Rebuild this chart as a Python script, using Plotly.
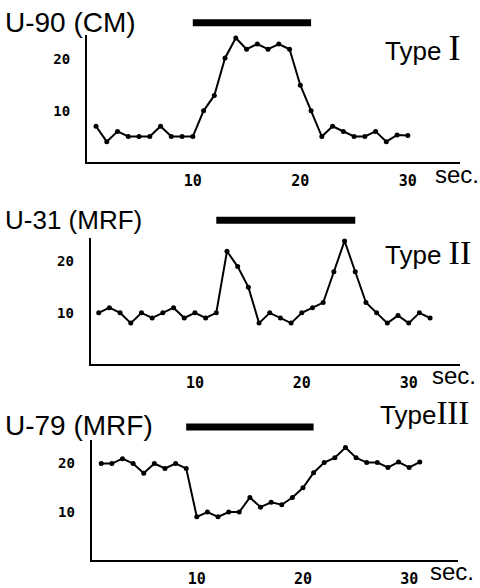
import plotly.graph_objects as go

W, H = 480, 588

# ---- data ----
t1 = [1, 2, 3, 4, 5, 6, 7, 8, 9, 10, 11, 12, 13, 14, 15, 16, 17, 18, 19, 20,
      21, 22, 23, 24, 25, 26, 27, 28, 29, 30]
u90 = [7, 4, 6, 5, 5, 5, 7, 5, 5, 5, 10, 13, 20.3, 24.2, 22, 23, 22, 23, 22, 15,
       10, 5, 7, 6, 5, 5, 6, 4, 5.3, 5.2]
stim1 = [10, 21]

t2 = [1, 2, 3, 4, 5, 6, 7, 8, 9, 10, 11, 12, 13, 14, 15, 16, 17, 18, 19, 20,
      21, 22, 23, 24, 25, 26, 27, 28, 29, 30, 31, 32]
u31 = [10, 11, 10, 8, 10, 9, 10, 11, 9, 10, 9, 10, 22, 19, 15, 8, 10, 9, 8, 10,
       11, 12, 18, 24, 18, 12, 10, 8, 9.5, 8, 10, 9]
stim2 = [12, 25]

t3 = [1, 2, 3, 4, 5, 6, 7, 8, 9, 10, 11, 12, 13, 14, 15, 16, 17, 18, 19, 20,
      21, 22, 23, 24, 25, 26, 27, 28, 29, 30, 31]
u79 = [20, 20, 21, 20, 18, 20, 19, 20, 19, 9, 10, 9, 10, 10, 13, 11, 12, 11.5, 13, 15,
       18.1, 20.2, 21.2, 23.3, 21.2, 20.2, 20.2, 19.2, 20.3, 19.2, 20.3]
stim3 = [9, 21]

x_ticks = [10, 20, 30]
y_ticks = [10, 20]
titles = ["U-90 (CM)", "U-31 (MRF)", "U-79 (MRF)"]
types = ["I", "II", "III"]


def px(v):
    return v / W


def py(v):
    return 1 - v / H


panels = [
    dict(t=t1, v=u90, stim=stim1, xd=(87, 460), xr=(0.16, 34.85),
         yb=163.3, yt=35.1, yr=(0, 24.8), bar=23),
    dict(t=t2, v=u31, stim=stim2, xd=(90.7, 460), xr=(0.25, 34.8),
         yb=366.7, yt=240, yr=(0, 24.5), bar=221.7),
    dict(t=t3, v=u79, stim=stim3, xd=(91.7, 458), xr=(0.1, 34.6),
         yb=564.3, yt=443.3, yr=(0, 24.8), bar=430),
]

fig = go.Figure()
layout = {}
for i, p in enumerate(panels):
    n = i + 1
    xa = "x" if n == 1 else f"x{n}"
    ya = "y" if n == 1 else f"y{n}"
    yb_name = f"y{n + 3}"
    fig.add_trace(go.Scatter(
        x=p["t"], y=p["v"], xaxis=xa, yaxis=ya, mode="lines+markers",
        line=dict(color="black", width=2),
        marker=dict(color="black", size=5), showlegend=False))
    fig.add_trace(go.Scatter(
        x=p["stim"], y=[0.5, 0.5], xaxis=xa, yaxis=yb_name, mode="lines",
        line=dict(color="black", width=7), showlegend=False))
    layout[f"xaxis{'' if n == 1 else n}"] = dict(
        domain=[px(p["xd"][0]), px(p["xd"][1])], range=list(p["xr"]),
        anchor=ya, showline=True, linecolor="black", linewidth=2,
        tickvals=x_ticks, ticktext=[str(v) for v in x_ticks], ticks="",
        showgrid=False, zeroline=False,
        tickfont=dict(family="DejaVu Sans Mono", size=15, color="black",
                      weight="bold"),
        ticklabelstandoff=4)
    layout[f"yaxis{'' if n == 1 else n}"] = dict(
        domain=[py(p["yb"]), py(p["yt"])], range=list(p["yr"]),
        anchor=xa, showline=True, linecolor="black", linewidth=2,
        tickvals=y_ticks, ticktext=[str(v) for v in y_ticks], ticks="",
        showgrid=False, zeroline=False,
        tickfont=dict(family="DejaVu Sans Mono", size=14, color="black",
                      weight="bold"),
        ticklabelstandoff=12)
    layout[f"yaxis{n + 3}"] = dict(
        domain=[py(p["bar"] + 6), py(p["bar"] - 6)], range=[0, 1],
        anchor=xa, visible=False)

fig.update_layout(**layout)

ann = []
title_pos = [(3, 23, 28), (3, 222, 26), (3, 428, 28)]
type_pos = [(383, 48, 36, " "), (383, 254, 34, " "), (378, 416, 33, "")]
sec_pos = [(433, 176), (430, 378), (428, 575)]
for i in range(3):
    x, y, s = title_pos[i]
    ann.append(dict(x=px(x), y=py(y), xref="paper", yref="paper",
                    text=titles[i], showarrow=False, xanchor="left",
                    yanchor="middle",
                    font=dict(family="Liberation Sans", size=s, color="black")))
    x, y, ns, sp = type_pos[i]
    ann.append(dict(x=px(x), y=py(y), xref="paper", yref="paper",
                    text=("Type" + sp + "<span style='font-family:Liberation Serif;"
                          "font-size:" + str(ns) + "px'>" + types[i] + "</span>"),
                    showarrow=False, xanchor="left", yanchor="middle",
                    font=dict(family="Liberation Sans", size=26, color="black")))
    x, y = sec_pos[i]
    ann.append(dict(x=px(x), y=py(y), xref="paper", yref="paper",
                    text="sec.", showarrow=False, xanchor="left",
                    yanchor="middle",
                    font=dict(family="Liberation Sans", size=24, color="black")))

fig.update_layout(
    width=W, height=H, margin=dict(l=0, r=0, t=0, b=0),
    paper_bgcolor="white", plot_bgcolor="white",
    annotations=ann, showlegend=False)

fig.write_html("out.html")
